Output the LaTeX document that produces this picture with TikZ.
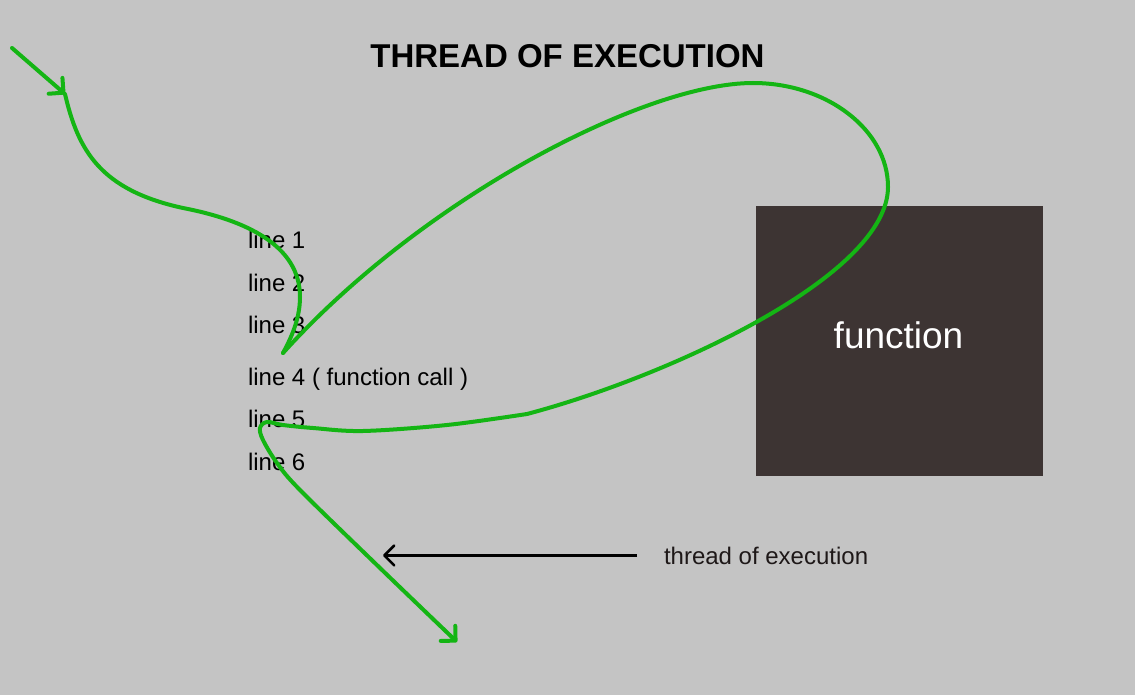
\documentclass[tikz,border=0pt]{standalone}
\usepackage{fontspec}
\setmainfont{Liberation Sans}
\usetikzlibrary{arrows.meta}
\definecolor{bggrey}{HTML}{C4C4C4}
\definecolor{boxbrown}{HTML}{3D3433}
\definecolor{threadgreen}{HTML}{14B514}
\definecolor{labelink}{HTML}{1E1818}

\begin{document}
\begin{tikzpicture}
    [x=1pt, y=-1pt,
    every node/.style={inner sep=0pt, outer sep=0pt},
    codeline/.style={anchor=base west, font=\fontsize{24}{28}\selectfont},
    thread/.style={draw=threadgreen, line width=4pt, line cap=round, line join=round},
    barb/.style={-{Straight Barb[length=10.5pt, width=21pt, round]}},
    pointer/.style={draw=black, line width=2.6pt, -{Straight Barb[length=10pt, width=20pt, round]}}
    ]
    \fill [bggrey] (0,0) rectangle (1135,695);
    \useasboundingbox (0,0) rectangle (1135,695);

    \node (title) [anchor=base, font=\bfseries\fontsize{33}{38}\selectfont] at (567.5,68) {THREAD OF EXECUTION};

    % the function box
    \node (fbox) [fill=boxbrown, minimum width=287pt, minimum height=270pt] at (899.5,341) {};
    \node (fname) [anchor=base, text=white, font=\fontsize{37}{42}\selectfont] at (898.5,348) {function};

    % lines of code
    \foreach \txt/\yb [count=\i] in {line 1/248, line 2/291, line 3/333, line 4 ( function call )/385, line 5/427, line 6/470}
        \node (line\i) [codeline] at (248,\yb) {\txt};

    % thread path
    \coordinate (start) at (12,48);
    \coordinate (entry) at (65,94);
    \coordinate (bend) at (183,208);
    \coordinate (side) at (300,297);
    \coordinate (call) at (283,353);
    \coordinate (top) at (753,83);
    \coordinate (turn) at (888,187);
    \coordinate (back) at (527,414);
    \coordinate (exit) at (457,642);
    \draw [thread, barb] (start) -- (entry);
    \draw [thread] (entry) .. controls (78,150) and (100,190) .. (bend)
        .. controls (245,220) and (300,245) .. (side)
        .. controls (300,320) and (290,340) .. (call);
    \draw [thread] (call) .. controls (423,198) and (645,83) .. (top)
        .. controls (827,83) and (888,130) .. (turn)
        .. controls (888,276) and (667,377) .. (back);
    \draw [thread, barb] plot [smooth, tension=0.55] coordinates {(back) (447,425) (363,431) (313,428) (283,425) (267,422) (260,428) (263,440) (277,463) (300,490) (380,568) (exit)};

    % label and pointer
    \node (legend) [anchor=base west, text=labelink, font=\fontsize{24}{28}\selectfont] at (664,564) {thread of execution};
    \coordinate (legendtip) at ([xshift=-281pt]legend.west);
    \draw [pointer] ([xshift=-27pt]legend.west) -- (legendtip);
\end{tikzpicture}
\end{document}
